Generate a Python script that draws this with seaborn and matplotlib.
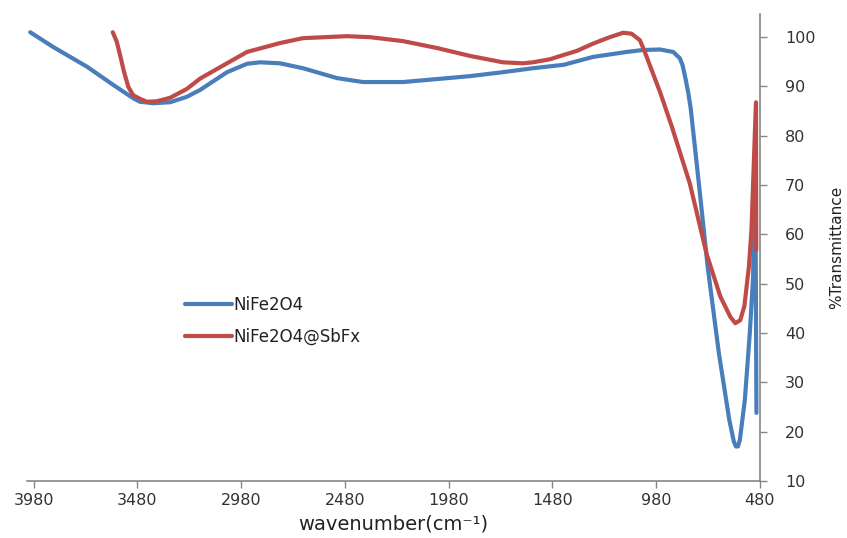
import matplotlib
matplotlib.use("Agg")
import matplotlib.pyplot as plt
import pandas as pd
import seaborn as sns

# FT-IR spectra: wavenumber (cm-1) vs %Transmittance
nife_wn = [3997, 3886, 3723, 3596, 3500, 3468, 3403, 3323, 3242, 3178, 3048, 2952,
           2889, 2793, 2682, 2518, 2393, 2200, 2036, 1877, 1718, 1574, 1425, 1283,
           1122, 1042, 961, 897, 865, 852, 838, 825, 813, 772, 731, 677, 627, 605,
           595, 585, 576, 552, 528, 512, 506, 501, 496]
nife_t = [101.0, 98.0, 94.0, 90.3, 87.6, 86.9, 86.6, 86.8, 87.9, 89.3, 92.9, 94.6,
          94.9, 94.7, 93.7, 91.7, 90.9, 90.9, 91.5, 92.1, 92.9, 93.7, 94.4, 96.0,
          97.0, 97.4, 97.5, 97.0, 95.7, 94.3, 91.6, 88.8, 85.6, 69.7, 53.4, 35.9,
          22.4, 18.0, 17.0, 17.0, 18.3, 26.4, 40.0, 51.4, 69.0, 70.4, 23.8]

sbf_wn = [3599, 3580, 3564, 3545, 3524, 3500, 3468, 3435, 3387, 3323, 3242, 3178,
          3082, 2952, 2793, 2682, 2470, 2359, 2200, 2036, 1877, 1718, 1622, 1574,
          1493, 1425, 1363, 1283, 1203, 1138, 1098, 1058, 1034, 1010, 961, 905,
          817, 736, 670, 622, 598, 574, 554, 532, 520, 503, 498, 497]
sbf_t = [101.0, 99.1, 96.4, 93.0, 89.9, 88.2, 87.5, 86.9, 87.0, 87.7, 89.5, 91.6,
         93.9, 97.0, 98.8, 99.8, 100.2, 100.0, 99.2, 97.8, 96.2, 94.9, 94.7, 94.9,
         95.5, 96.4, 97.2, 98.7, 100.0, 100.9, 100.7, 99.4, 97.0, 94.3, 88.9, 82.0,
         70.3, 56.0, 47.4, 43.3, 42.0, 42.6, 45.5, 53.6, 60.9, 81.2, 86.8, 56.8]

series_names = ["NiFe2O4", "NiFe2O4@SbFx"]
series_colors = ["#4A7EBB", "#BE4B48"]

x_ticks = [480, 980, 1480, 1980, 2480, 2980, 3480, 3980]
y_ticks = [10, 20, 30, 40, 50, 60, 70, 80, 90, 100]

df = pd.concat([
    pd.DataFrame({"wn": nife_wn, "T": nife_t, "sample": series_names[0]}),
    pd.DataFrame({"wn": sbf_wn, "T": sbf_t, "sample": series_names[1]}),
], ignore_index=True)

sns.set_style("white")
plt.rcParams["font.family"] = ["DejaVu Sans"]

fig = plt.figure(figsize=(8.47, 5.38), dpi=100)
ax = fig.add_axes([0.032, 0.106, 0.865, 0.868])

sns.lineplot(data=df, x="wn", y="T", hue="sample", palette=series_colors,
             hue_order=series_names, sort=False, estimator=None, units="sample",
             linewidth=3.0, ax=ax)
for line in ax.get_lines():
    line.set_solid_joinstyle("round")
    line.set_solid_capstyle("round")

ax.set_xlim(4012, 480)
ax.set_ylim(10, 104.7)
ax.set_xticks(x_ticks)
ax.set_xticklabels([str(v) for v in x_ticks])
ax.set_yticks(y_ticks)
ax.set_yticklabels([str(v) for v in y_ticks])

axis_gray = "#868686"
for side in ["top", "left"]:
    ax.spines[side].set_visible(False)
for side in ["bottom", "right"]:
    ax.spines[side].set_visible(True)
    ax.spines[side].set_color(axis_gray)
    ax.spines[side].set_linewidth(1.2)

ax.yaxis.tick_right()
ax.yaxis.set_label_position("right")
ax.tick_params(axis="both", which="major", direction="out", length=5, width=1,
               color=axis_gray, labelsize=11.5, labelcolor="#333333",
               bottom=True, right=True, left=False)
ax.tick_params(axis="y", pad=13)

ax.set_xlabel("wavenumber(cm⁻¹)", fontsize=14, color="#222222", labelpad=5)
ax.set_ylabel("%Transmittance", fontsize=11, color="#222222", labelpad=10,
              rotation=90)

leg = ax.legend(loc="center left", bbox_to_anchor=(0.2156, 0.343), frameon=False,
                fontsize=12, handlelength=2.8, handletextpad=0.12,
                labelspacing=0.85, borderpad=0, borderaxespad=0)
for line in leg.get_lines():
    line.set_linewidth(3.0)
for t in leg.get_texts():
    t.set_color("#222222")

fig.savefig("out.png", dpi=100)
